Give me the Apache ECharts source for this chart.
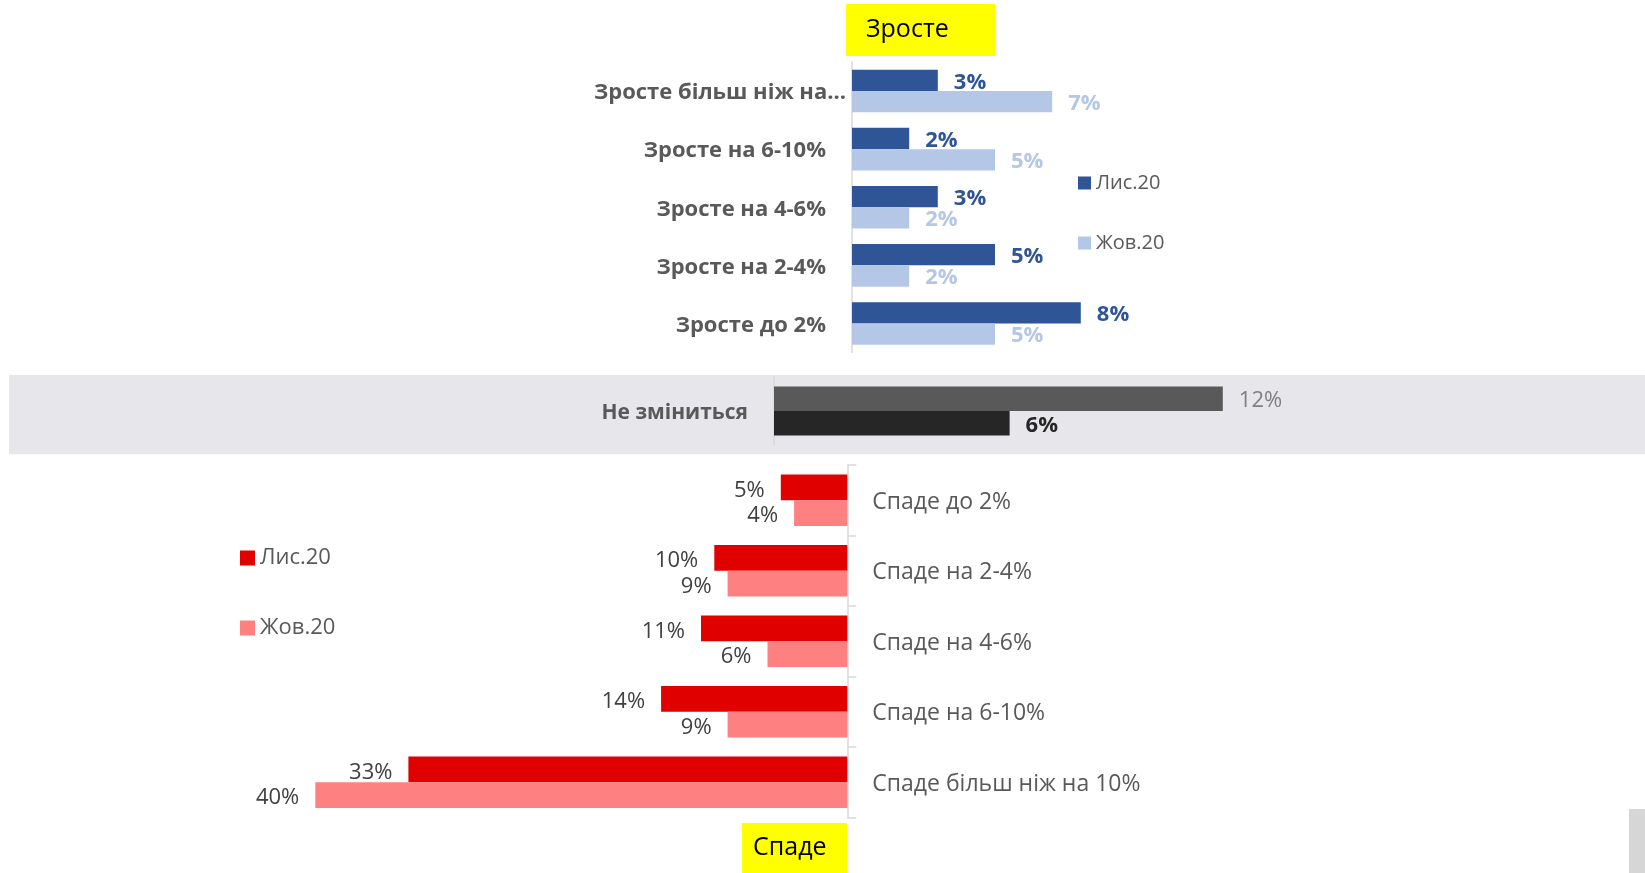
<!DOCTYPE html>
<html><head><meta charset="utf-8">
<script src="https://cdn.jsdelivr.net/npm/echarts@6/dist/echarts.min.js"></script>
<style>html,body{margin:0;padding:0;background:#fff}#c{width:1645px;height:873px}</style>
</head><body><div id="c"></div>
<script>
// ---- data ----
const riseCategories = ['Зросте більш ніж на...', 'Зросте на 6-10%', 'Зросте на 4-6%', 'Зросте на 2-4%', 'Зросте до 2%'];
const riseNov = [3, 2, 3, 5, 8];
const riseOct = [7, 5, 2, 2, 5];
const sameCategories = ['Не зміниться'];
const sameNov = [12];
const sameOct = [6.3];
const fallCategories = ['Спаде до 2%', 'Спаде на 2-4%', 'Спаде на 4-6%', 'Спаде на 6-10%', 'Спаде більш ніж на 10%'];
const fallNov = [5, 10, 11, 14, 33];
const fallOct = [4, 9, 6, 9, 40];
const seriesNames = ['Лис.20', 'Жов.20'];
const titleRise = 'Зросте';
const titleFall = 'Спаде';

const FONT = '"Open Sans", "Noto Sans", sans-serif';
const pct = p => Math.round(p.value) + '%';
const axisLineStyle = {lineStyle: {color: '#D9D9D9', width: 1.5}};

const chart = echarts.init(document.getElementById('c'), null, {renderer: 'canvas'});
const option = {
  animation: false,
  backgroundColor: '#fff',
  textStyle: {fontFamily: FONT},
  grid: [
    {left: 852, top: 62, width: 286, height: 290.5},
    {left: 774, top: 377, width: 598.4, height: 68},
    {left: 315.3, top: 465, width: 532, height: 352.5}
  ],
  xAxis: [
    {gridIndex: 0, type: 'value', min: 0, max: 10, show: false},
    {gridIndex: 1, type: 'value', min: 0, max: 16, show: false},
    {gridIndex: 2, type: 'value', min: 0, max: 40, inverse: true, show: false}
  ],
  yAxis: [
    {gridIndex: 0, type: 'category', data: riseCategories, inverse: true,
      axisLine: axisLineStyle, axisTick: {show: false}, splitLine: {show: false},
      axisLabel: {margin: 6, formatter: (v, i) => i === 0 ? '{t|' + v + '}' : '{n|' + v + '}',
        rich: {
          t: {fontSize: 22, fontWeight: 'bold', color: '#595959', fontFamily: FONT, padding: [4, 0, 0, 0]},
          n: {fontSize: 22, fontWeight: 'bold', color: '#595959', fontFamily: FONT, padding: [4, 20, 0, 0]}
        }}},
    {gridIndex: 1, type: 'category', data: sameCategories, inverse: true,
      axisLine: axisLineStyle, axisTick: {show: false}, splitLine: {show: false},
      axisLabel: {margin: 26, formatter: v => '{s|' + v + '}',
        rich: {s: {fontSize: 21, fontWeight: 'bold', color: '#595959', fontFamily: FONT, padding: [4, 0, 0, 0]}}}},
    {gridIndex: 2, type: 'category', data: fallCategories, inverse: true, position: 'right',
      axisLine: axisLineStyle, axisTick: {show: true, length: 9, lineStyle: {color: '#D9D9D9', width: 1.5}},
      splitLine: {show: false},
      axisLabel: {margin: 25, formatter: v => '{f|' + v + '}',
        rich: {f: {fontSize: 23, color: '#595959', fontFamily: FONT, padding: [4, 0, 0, 0]}}}}
  ],
  legend: [
    {data: [{name: seriesNames[0], itemStyle: {color: '#2F5597'}}, {name: seriesNames[1], itemStyle: {color: '#B4C7E7'}}],
      orient: 'vertical', left: 1078, top: 173, padding: 0, itemWidth: 13, itemHeight: 13, itemGap: 40, icon: 'rect',
      selectedMode: false, textStyle: {fontSize: 20, lineHeight: 20, color: '#595959', fontFamily: FONT}},
    {data: [{name: seriesNames[0], itemStyle: {color: '#E00000'}}, {name: seriesNames[1], itemStyle: {color: '#FF8080'}}],
      orient: 'vertical', left: 240, top: 547, padding: 0, itemWidth: 15, itemHeight: 15, itemGap: 48, icon: 'rect',
      selectedMode: false, textStyle: {fontSize: 22, lineHeight: 22, color: '#595959', fontFamily: FONT}}
  ],
  graphic: [
    {type: 'rect', z: -5, shape: {x: 9, y: 375, width: 1636, height: 79.3}, style: {fill: '#E7E6EB'}},
    {type: 'rect', shape: {x: 846, y: 4, width: 149, height: 52}, style: {fill: '#FFFF00'}},
    {type: 'text', x: 866, y: 30, style: {text: titleRise, font: '25px ' + FONT, fill: '#000', align: 'left', verticalAlign: 'middle'}},
    {type: 'rect', shape: {x: 742, y: 823, width: 105, height: 50}, style: {fill: '#FFFF00'}},
    {type: 'text', x: 753, y: 848, style: {text: titleFall, font: '25px ' + FONT, fill: '#000', align: 'left', verticalAlign: 'middle'}},
    {type: 'rect', shape: {x: 1629, y: 809, width: 16, height: 64}, style: {fill: '#D6D6D6'}}
  ],
  series: [
    {type: 'bar', name: seriesNames[0], xAxisIndex: 0, yAxisIndex: 0, data: riseNov, barGap: '0%', barCategoryGap: '26.7%',
      itemStyle: {color: '#2F5597'},
      label: {show: true, position: 'right', distance: 16, offset: [0, 2], formatter: pct, color: '#2F5597', fontWeight: 'bold', fontSize: 22, fontFamily: FONT}},
    {type: 'bar', name: seriesNames[1], xAxisIndex: 0, yAxisIndex: 0, data: riseOct, barGap: '0%', barCategoryGap: '26.7%',
      itemStyle: {color: '#B4C7E7'},
      label: {show: true, position: 'right', distance: 16, offset: [0, 2], formatter: pct, color: '#B4C7E7', fontWeight: 'bold', fontSize: 22, fontFamily: FONT}},
    {type: 'bar', name: seriesNames[0], xAxisIndex: 1, yAxisIndex: 1, data: sameNov, barGap: '0%', barCategoryGap: '28%',
      itemStyle: {color: '#595959'},
      label: {show: true, position: 'right', distance: 16, offset: [0, 2], formatter: pct, color: '#7F7F7F', fontSize: 22, fontFamily: FONT}},
    {type: 'bar', name: seriesNames[1], xAxisIndex: 1, yAxisIndex: 1, data: sameOct, barGap: '0%', barCategoryGap: '28%',
      itemStyle: {color: '#262626'},
      label: {show: true, position: 'right', distance: 16, offset: [0, 2], formatter: pct, color: '#262626', fontWeight: 'bold', fontSize: 22, fontFamily: FONT}},
    {type: 'bar', name: seriesNames[0], xAxisIndex: 2, yAxisIndex: 2, data: fallNov, barGap: '0%', barCategoryGap: '27%',
      itemStyle: {color: '#E00000'},
      label: {show: true, position: 'left', distance: 16, offset: [0, 3], formatter: pct, color: '#404040', fontSize: 22, fontFamily: FONT}},
    {type: 'bar', name: seriesNames[1], xAxisIndex: 2, yAxisIndex: 2, data: fallOct, barGap: '0%', barCategoryGap: '27%',
      itemStyle: {color: '#FF8080'},
      label: {show: true, position: 'left', distance: 16, offset: [0, 3], formatter: pct, color: '#404040', fontSize: 22, fontFamily: FONT}}
  ]
};
chart.setOption(option);
</script>
</body></html>
